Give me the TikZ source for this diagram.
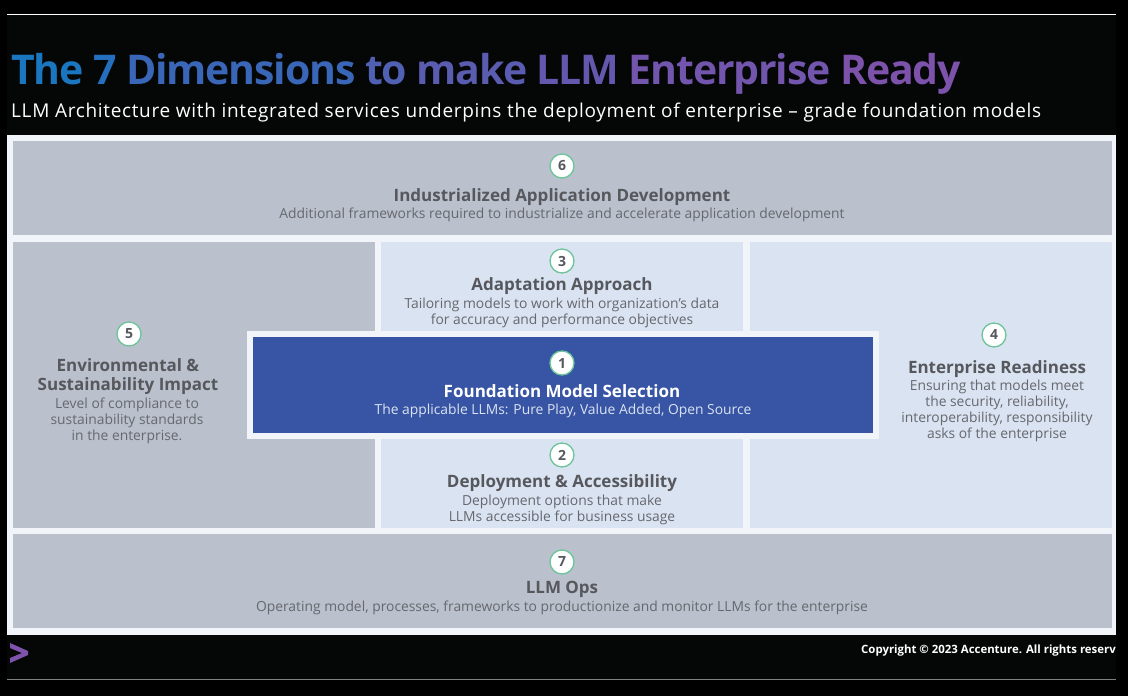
\documentclass[tikz,border=0pt]{standalone}
\usepackage{fontspec}
\setmainfont{Open Sans}
\newfontfamily\subfont[LetterSpace=3.6]{Open Sans}
\newfontfamily\titlefont[LetterSpace=-2.8]{Open Sans}
\definecolor{outer}{HTML}{000000}
\definecolor{stage}{HTML}{050606}
\definecolor{sheet}{HTML}{F1F4F8}
\definecolor{greybox}{HTML}{BAC0CC}
\definecolor{palebox}{HTML}{DAE3F1}
\definecolor{bluebox}{HTML}{3855A5}
\definecolor{headtext}{HTML}{57585D}
\definecolor{bodytext}{HTML}{66686E}
\definecolor{ringgreen}{HTML}{6CC49A}
\definecolor{logopurple}{HTML}{7E53AC}
\begin{document}
\begin{tikzpicture}[x=1pt,y=-1pt,
  panel/.style={inner sep=0pt,minimum width=#1},
  num/.style={draw=ringgreen,line width=1.3pt,circle,fill=white,inner sep=0pt,minimum size=24pt,font=\fontsize{14}{14}\selectfont\bfseries,text=headtext},
  head/.style={font=\fontsize{17}{19}\selectfont\bfseries,text=headtext,align=center,inner sep=0pt},
  body/.style={font=\fontsize{13.85}{16}\selectfont,text=bodytext,align=center,inner sep=0pt},
]
  \useasboundingbox (0,0) rectangle (1128,696);
  \fill[outer] (0,0) rectangle (1128,696);
  \fill[stage] (7,15) rectangle (1116,679);
  \draw[white,line width=1.2pt] (7,14.5) -- (1116,14.5);
  \draw[gray,line width=1pt] (7,679.5) -- (1116,679.5);

  % heading
  \node[anchor=base west,inner sep=0pt,font=\fontsize{41}{41}\titlefont\bfseries] (title) at (11,84) {\textcolor[HTML]{1B76C0}{The} \textcolor[HTML]{2470BE}{7} \textcolor[HTML]{3A66B8}{Dimensions} \textcolor[HTML]{5060B2}{to} \textcolor[HTML]{5A5CB0}{make} \textcolor[HTML]{6458AE}{LLM} \textcolor[HTML]{7255AC}{Enterprise} \textcolor[HTML]{7C52AB}{Ready}};
  \node[anchor=base west,inner sep=0pt,text=white,font=\fontsize{19}{19}\subfont] (subtitle) at (11,117) {LLM Architecture with integrated services underpins the deployment of enterprise – grade foundation models};

  % boxes
  \fill[sheet] (7,135) rectangle (1116,635);
  \node[panel=1099pt,minimum height=94pt,fill=greybox] (appdev) at (562.5,188) {};
  \node[panel=362pt,minimum height=286pt,fill=greybox] (sustain) at (194,385) {};
  \node[panel=362pt,minimum height=89pt,fill=palebox] (adapt) at (562,286.5) {};
  \node[panel=362pt,minimum height=286pt,fill=palebox] (ready) at (931,385) {};
  \node[panel=362pt,minimum height=89pt,fill=palebox] (deploy) at (562,483.5) {};
  \node[panel=1099pt,minimum height=94pt,fill=greybox] (ops) at (562.5,581) {};
  \node[panel=632pt,minimum height=108pt,fill=sheet] (coreframe) at (563,385) {};
  \node[panel=620pt,minimum height=96pt,fill=bluebox] (core) at (563,385) {};

  % top and bottom
  \node[num] (n6) at (562,166) {6};
  \node[head] (h6) at (562,197) {Industrialized Application Development};
  \node[body] (b6) at (562,215) {Additional frameworks required to industrialize and accelerate application development};
  \node[num] (n7) at (562,562) {7};
  \node[head] (h7) at (562,589) {LLM Ops};
  \node[body] (b7) at (562,608) {Operating model, processes, frameworks to productionize and monitor LLMs for the enterprise};

  % middle column
  \node[num] (n3) at (562,261) {3};
  \node[head] (h3) at (562,286.5) {Adaptation Approach};
  \node[body] (b3) at (562,313) {Tailoring models to work with organization's data\\for accuracy and performance objectives};
  \node[num] (n1) at (562,363) {1};
  \node[head,text=white] (h1) at (562,391) {Foundation Model Selection};
  \node[body,text=palebox] (b1) at (563,411) {The applicable LLMs: Pure Play, Value Added, Open Source};
  \node[num] (n2) at (562,455) {2};
  \node[head] (h2) at (562,483) {Deployment \& Accessibility};
  \node[body] (b2) at (562,509.5) {Deployment options that make\\LLMs accessible for business usage};

  % sides
  \node[num] (n5) at (129,334) {5};
  \node[head] (h5) at (128,376.5) {Environmental \&\\Sustainability Impact};
  \node[body] (b5) at (127,421) {Level of compliance to\\sustainability standards\\in the enterprise.};
  \node[num] (n4) at (994,335) {4};
  \node[head] (h4) at (997,369) {Enterprise Readiness};
  \node[body] (b4) at (997,411) {Ensuring that models meet\\the security, reliability,\\interoperability, responsibility\\asks of the enterprise};

  % footer
  \fill[logopurple] (10,643) -- (28,651) -- (28,655) -- (10,663) -- (10,658) -- (22,653) -- (10,648) -- cycle;
  \node[anchor=base west,inner sep=0pt,text=white,font=\fontsize{11.4}{12}\selectfont\bfseries] (copyright) at (861,653) {Copyright © 2023 Accenture. All rights reserved.};
  \fill[outer] (1116,600) rectangle (1128,696);
\end{tikzpicture}
\end{document}
